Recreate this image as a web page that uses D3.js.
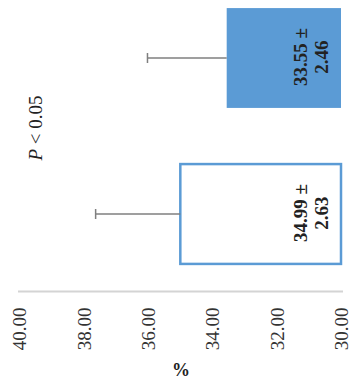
<!DOCTYPE html>
<html>
<head>
<meta charset="utf-8">
<script src="https://cdn.jsdelivr.net/npm/d3@7"></script>
<style>
  html, body { margin: 0; padding: 0; background: #fff; }
  svg { display: block; }
</style>
</head>
<body>
<svg id="chart" width="352" height="385"></svg>
<script>
// Group means, standard deviations and label text
const groups = ["Control", "Treated"];
const means = [34.99, 33.55];
const sds = [2.63, 2.46];
const tickValues = [40, 38, 36, 34, 32, 30];
const pLabel = ["P", " < 0.05"];
const unitLabel = "%";

const fills = ["#ffffff", "#5b9bd5"];
const strokes = ["#5b9bd5", "none"];

const svg = d3.select("#chart");
const W = 352, H = 385;
const axisY = 291.5;

// Value axis runs horizontally, 40 on the left and 30 on the right
const x = d3.scaleLinear().domain([30, 40]).range([341, 19]);
// Categories stacked vertically, first group at the bottom
const y = d3.scaleBand().domain(groups).range([292, -20])
  .paddingInner(0.36).paddingOuter(0.18);

const serif = "'Liberation Serif', 'Times New Roman', serif";

// Axis
const axis = d3.axisBottom(x)
  .tickValues(tickValues)
  .tickSize(0)
  .tickFormat(d3.format(".2f"));

const gAxis = svg.append("g")
  .attr("transform", `translate(0,${axisY})`)
  .call(axis);
gAxis.select(".domain")
  .attr("stroke", "#d4d4d4")
  .attr("stroke-width", 2)
  .attr("d", `M${x(40) - 1},0H${x(30) + 2}`);
gAxis.selectAll(".tick text")
  .attr("transform", "rotate(-90)")
  .attr("text-anchor", "end")
  .attr("x", -16)
  .attr("y", 0)
  .attr("dy", "0.35em")
  .attr("fill", "#333")
  .style("font-family", serif)
  .style("font-size", "19px");

// Bars
const data = groups.map((g, i) => ({ g, mean: means[i], sd: sds[i], i }));

svg.append("g").selectAll("rect")
  .data(data)
  .join("rect")
  .attr("x", d => x(d.mean))
  .attr("y", d => y(d.g))
  .attr("width", d => x(30) - x(d.mean))
  .attr("height", y.bandwidth())
  .attr("fill", d => fills[d.i])
  .attr("stroke", d => strokes[d.i])
  .attr("stroke-width", 2.5);

// Error bars (upper side only)
const eb = svg.append("g")
  .attr("stroke", "#7f7f7f")
  .attr("stroke-width", 1.5);
data.forEach(d => {
  const cy = y(d.g) + y.bandwidth() / 2;
  eb.append("line")
    .attr("x1", x(d.mean)).attr("x2", x(d.mean + d.sd))
    .attr("y1", cy).attr("y2", cy);
  eb.append("line")
    .attr("x1", x(d.mean + d.sd)).attr("x2", x(d.mean + d.sd))
    .attr("y1", cy - 5).attr("y2", cy + 5);
});

// Value labels inside the bars
const lbl = svg.append("g")
  .style("font-family", serif)
  .style("font-size", "19px")
  .style("font-weight", "bold")
  .attr("fill", "#222");
data.forEach(d => {
  const cy = y(d.g) + y.bandwidth() / 2 - 1;
  const lines = [d.mean.toFixed(2) + " ±", d.sd.toFixed(2)];
  const cx = [300, 321.5];
  lines.forEach((t, k) => {
    lbl.append("text")
      .attr("transform", `translate(${cx[k]},${cy}) rotate(-90)`)
      .attr("text-anchor", "middle")
      .attr("dominant-baseline", "central")
      .text(t);
  });
});

// Significance note
const pt = svg.append("text")
  .attr("transform", "translate(35,128) rotate(-90)")
  .attr("text-anchor", "middle")
  .attr("dominant-baseline", "central")
  .attr("fill", "#222")
  .style("font-family", serif)
  .style("font-size", "19px");
pt.append("tspan").style("font-style", "italic").text(pLabel[0]);
pt.append("tspan").text(pLabel[1]);

// Unit label
svg.append("text")
  .attr("x", 181)
  .attr("y", 370)
  .attr("text-anchor", "middle")
  .attr("dominant-baseline", "central")
  .attr("fill", "#222")
  .style("font-family", serif)
  .style("font-size", "18px")
  .style("font-weight", "bold")
  .text(unitLabel);
</script>
</body>
</html>
